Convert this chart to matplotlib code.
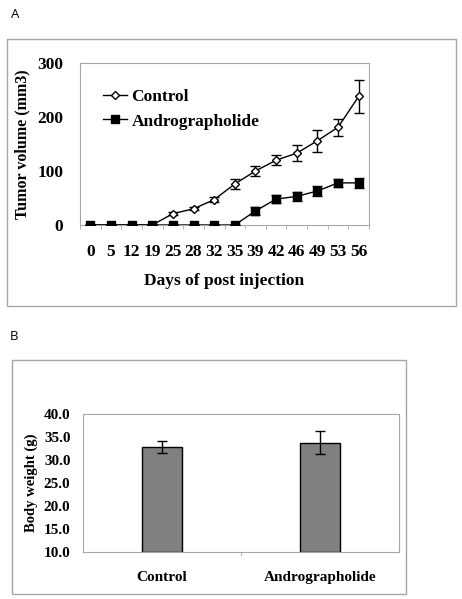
import numpy as np
import matplotlib
matplotlib.use("Agg")
import matplotlib.pyplot as plt
from matplotlib.patches import Rectangle
from matplotlib.lines import Line2D

# tumor volume data (panel A)
days = ["0", "5", "12", "19", "25", "28", "32", "35", "39", "42", "46", "49", "53", "56"]
control = [0, 0, 0, 0, 21, 30, 47, 76, 100, 120, 133, 156, 181, 238]
control_err = [0, 0, 0, 0, 3, 3, 5, 9, 9, 9, 15, 20, 16, 30]
andro = [0, 0, 0, 0, 0, 0, 0, 0, 26, 48, 53, 63, 78, 78]
andro_err = [0, 0, 0, 0, 0, 0, 0, 0, 7, 7, 8, 10, 8, 9]

# body weight data (panel B)
groups = ["Control", "Andrographolide"]
weight = [32.9, 33.8]
weight_err = [1.3, 2.4]

W, H = 462, 599
fig = plt.figure(figsize=(W/100, H/100), dpi=100)
serif = "Liberation Serif"
frame = "#a6a6a6"

# outer boxes and panel letters
fig.add_artist(Rectangle((7/W, 1-306/H), 449/W, 267/H, fill=False, ec=frame, lw=1, transform=fig.transFigure))
fig.add_artist(Rectangle((12/W, 1-594/H), 394/W, 234/H, fill=False, ec=frame, lw=1, transform=fig.transFigure))
fig.text(11/W, 1-15/H, "A", fontsize=9.5, family="Open Sans", va="center", ha="left")
fig.text(10/W, 1-336/H, "B", fontsize=9.5, family="Open Sans", va="center", ha="left")

# ---- panel A ----
ax = fig.add_axes([80/W, 1-225/H, 289/W, 162/H])
x = np.arange(len(days))
ax.errorbar(x, control, yerr=control_err, color="black", lw=1, marker="D", ms=4.5,
            mfc="white", mec="black", mew=1, capsize=3.5, elinewidth=1, zorder=3)
ax.errorbar(x, andro, yerr=andro_err, color="black", lw=1, marker="s", ms=5.5,
            mfc="black", mec="black", capsize=3.5, elinewidth=1, zorder=3)
ax.set_xlim(-0.5, len(days)-0.5)
ax.set_ylim(0, 300)
ax.set_yticks([0, 100, 200, 300])
ax.set_xticks(x)
ax.set_xticklabels(days)
ax.set_xticks(np.arange(-0.5, len(days)), minor=True)
ax.tick_params(axis="x", which="major", length=0, pad=14)
ax.tick_params(axis="x", which="minor", length=3, color=frame)
ax.tick_params(axis="y", length=0, pad=12)
for s in ax.spines.values():
    s.set_color(frame)
for lab in ax.get_xticklabels() + ax.get_yticklabels():
    lab.set_family(serif)
    lab.set_fontweight("bold")
    lab.set_fontsize(12.5)
ax.set_ylabel("Tumor volume (mm3)", family=serif, fontweight="bold", fontsize=11.5, labelpad=5)
ax.set_xlabel("Days of post injection", family=serif, fontweight="bold", fontsize=12.5, labelpad=9)
handles = [Line2D([], [], color="black", lw=1, marker="D", ms=4.5, mfc="white", mec="black"),
           Line2D([], [], color="black", lw=1, marker="s", ms=5.5, mfc="black", mec="black")]
ax.legend(handles, ["Control", "Andrographolide"], loc="upper left", bbox_to_anchor=(0.055, 0.885),
          frameon=False, handlelength=1.4, handletextpad=0.25, labelspacing=0.5, borderaxespad=0,
          prop={"family": serif, "weight": "bold", "size": 12.5})

# ---- panel B ----
bx = fig.add_axes([83/W, 1-552/H, 316/W, 138/H])
xb = np.arange(len(groups))
bx.bar(xb, np.array(weight) - 10, bottom=10, width=0.25, color="#808080", edgecolor="black", lw=1, zorder=2)
bx.errorbar(xb, weight, yerr=weight_err, fmt="none", ecolor="black", elinewidth=1, capsize=3.5, zorder=3)
bx.set_xlim(-0.5, len(groups)-0.5)
bx.set_ylim(10, 40)
bx.set_yticks(np.arange(10, 41, 5))
bx.set_yticklabels(["%.1f" % v for v in np.arange(10, 41, 5)])
bx.set_xticks(xb)
bx.set_xticklabels(groups)
bx.set_xticks([0.5], minor=True)
bx.tick_params(axis="x", which="major", length=0, pad=14)
bx.tick_params(axis="x", which="minor", length=3, color=frame)
bx.tick_params(axis="y", length=0, pad=9)
for s in bx.spines.values():
    s.set_color(frame)
for lab in bx.get_xticklabels() + bx.get_yticklabels():
    lab.set_family(serif)
    lab.set_fontweight("bold")
    lab.set_fontsize(11)
bx.set_ylabel("Body weight (g)", family=serif, fontweight="bold", fontsize=10.5, labelpad=4)

fig.savefig("out.png", dpi=100)
